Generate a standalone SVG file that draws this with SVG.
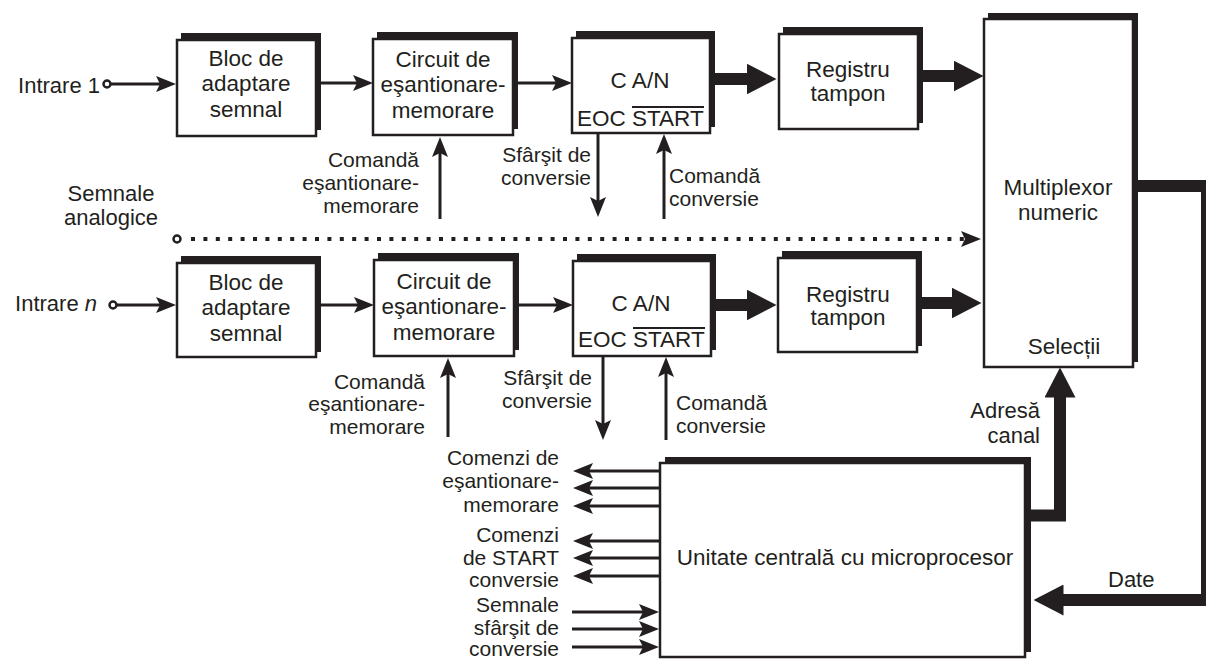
<svg xmlns="http://www.w3.org/2000/svg" width="1206" height="661" viewBox="0 0 1206 661">
  <style>
    .shadow { fill: #231f20; }
    .box { fill: #ffffff; stroke: #231f20; stroke-width: 2.5; }
    .t { font-family: "Liberation Sans", Arial, sans-serif; font-size: 22.5px; fill: #231f20; }
    .lbl { font-family: "Liberation Sans", Arial, sans-serif; font-size: 21px; fill: #231f20; }
    .big { font-family: "Liberation Sans", Arial, sans-serif; font-size: 22px; fill: #231f20; }
    .mid { text-anchor: middle; }
    .end { text-anchor: end; }
    .thin { fill: none; stroke: #231f20; stroke-width: 3; marker-end: url(#ah); }
    .bus { fill: none; stroke: #231f20; stroke-width: 12; marker-end: url(#AH); }
    .dots { fill: none; stroke: #231f20; stroke-width: 4; stroke-dasharray: 4 8.4; marker-end: url(#ah); }
    .pin { fill: #ffffff; stroke: #231f20; stroke-width: 2.5; }
  </style>
  <defs>
    <marker id="ah" viewBox="0 0 20 16" markerWidth="20" markerHeight="16" refX="4" refY="8" orient="auto" markerUnits="userSpaceOnUse">
      <path d="M0,0 L20,8 L0,16 L4,8 z" fill="#231f20"/>
    </marker>
    <marker id="AH" viewBox="0 0 30 31" markerWidth="30" markerHeight="31" refX="0.5" refY="15.5" orient="auto" markerUnits="userSpaceOnUse">
      <path d="M0,0 L30,15.5 L0,31 z" fill="#231f20"/>
    </marker>
  </defs>

  <!-- channel 1 -->
  <g id="bloc1">
    <rect class="shadow" x="181" y="33" width="140" height="97"/>
    <rect class="box" x="177" y="40" width="139" height="96"/>
    <text class="t mid" x="246" y="66">Bloc de</text>
    <text class="t mid" x="246" y="91">adaptare</text>
    <text class="t mid" x="246" y="117">semnal</text>
  </g>
  <g id="esm1">
    <rect class="shadow" x="377" y="32" width="141" height="97"/>
    <rect class="box" x="373" y="39" width="140" height="96"/>
    <text class="t mid" x="443" y="67">Circuit de</text>
    <text class="t mid" x="443" y="92">eşantionare-</text>
    <text class="t mid" x="443" y="118">memorare</text>
  </g>
  <g id="can1">
    <rect class="shadow" x="576" y="31" width="139" height="96"/>
    <rect class="box" x="572" y="38" width="138" height="95"/>
    <text class="t mid" x="640" y="88">C A/N</text>
    <text class="t" x="577" y="126">EOC</text>
    <text class="t" x="632" y="126">START</text>
    <line x1="632" y1="107" x2="704" y2="107" stroke="#231f20" stroke-width="1.8"/>
  </g>
  <g id="reg1">
    <rect class="shadow" x="783" y="27" width="140" height="96"/>
    <rect class="box" x="779" y="34" width="139" height="95"/>
    <text class="t mid" x="848" y="77">Registru</text>
    <text class="t mid" x="848" y="101">tampon</text>
  </g>

  <!-- channel n -->
  <g id="blocn">
    <rect class="shadow" x="181" y="256" width="140" height="96"/>
    <rect class="box" x="177" y="263" width="139" height="94"/>
    <text class="t mid" x="246" y="290">Bloc de</text>
    <text class="t mid" x="246" y="315">adaptare</text>
    <text class="t mid" x="246" y="341">semnal</text>
  </g>
  <g id="esmn">
    <rect class="shadow" x="378" y="253" width="141" height="97"/>
    <rect class="box" x="374" y="260" width="140" height="96"/>
    <text class="t mid" x="444" y="289">Circuit de</text>
    <text class="t mid" x="444" y="314">eşantionare-</text>
    <text class="t mid" x="444" y="340">memorare</text>
  </g>
  <g id="cann">
    <rect class="shadow" x="577" y="254" width="139" height="96"/>
    <rect class="box" x="573" y="261" width="138" height="95"/>
    <text class="t mid" x="641" y="311">C A/N</text>
    <text class="t" x="578" y="347">EOC</text>
    <text class="t" x="633" y="347">START</text>
    <line x1="633" y1="328" x2="705" y2="328" stroke="#231f20" stroke-width="1.8"/>
  </g>
  <g id="regn">
    <rect class="shadow" x="782" y="251" width="140" height="95"/>
    <rect class="box" x="778" y="258" width="139" height="94"/>
    <text class="t mid" x="848" y="302">Registru</text>
    <text class="t mid" x="848" y="325">tampon</text>
  </g>

  <!-- digital multiplexer -->
  <g id="mux">
    <rect class="shadow" x="988" y="13" width="150" height="349"/>
    <rect class="box" x="984" y="19" width="149" height="348"/>
    <text class="t mid" x="1058" y="195">Multiplexor</text>
    <text class="t mid" x="1058" y="220">numeric</text>
    <text class="t mid" x="1064" y="354">Selecții</text>
  </g>

  <!-- central processing unit -->
  <g id="cpu">
    <rect class="shadow" x="665" y="457" width="366" height="195"/>
    <rect class="box" x="660" y="463" width="365" height="194"/>
    <text class="t mid" x="845" y="565">Unitate centrală cu microprocesor</text>
  </g>

  <!-- free labels -->
  <g id="labels">
    <text class="big end" x="100" y="93">Intrare 1</text>
    <text class="big end" x="97" y="311">Intrare <tspan font-style="italic">n</tspan></text>
    <text class="big mid" x="111" y="201">Semnale</text>
    <text class="big mid" x="111" y="225">analogice</text>

    <text class="lbl end" x="419" y="167">Comandă</text>
    <text class="lbl end" x="419" y="190">eşantionare-</text>
    <text class="lbl end" x="419" y="213">memorare</text>
    <text class="lbl end" x="591" y="162">Sfârşit de</text>
    <text class="lbl end" x="591" y="185">conversie</text>
    <text class="lbl" x="669" y="183">Comandă</text>
    <text class="lbl" x="669" y="206">conversie</text>

    <text class="lbl end" x="425" y="389">Comandă</text>
    <text class="lbl end" x="425" y="411">eşantionare-</text>
    <text class="lbl end" x="425" y="434">memorare</text>
    <text class="lbl end" x="592" y="385">Sfârşit de</text>
    <text class="lbl end" x="592" y="408">conversie</text>
    <text class="lbl" x="676" y="410">Comandă</text>
    <text class="lbl" x="676" y="433">conversie</text>

    <text class="lbl end" x="559" y="465">Comenzi de</text>
    <text class="lbl end" x="559" y="488">eşantionare-</text>
    <text class="lbl end" x="559" y="512">memorare</text>
    <text class="lbl end" x="559" y="542">Comenzi</text>
    <text class="lbl end" x="559" y="565">de START</text>
    <text class="lbl end" x="559" y="587">conversie</text>
    <text class="lbl end" x="559" y="612">Semnale</text>
    <text class="lbl end" x="559" y="635">sfârşit de</text>
    <text class="lbl end" x="559" y="656">conversie</text>

    <text class="big end" x="1040" y="418">Adresă</text>
    <text class="big end" x="1040" y="443">canal</text>
    <text class="big" x="1108" y="587">Date</text>
  </g>

  <g id="connectors">
    <!-- channel 1 signal path -->
    <circle class="pin" cx="107" cy="84" r="3.5"/>
    <line class="thin" x1="111" y1="84" x2="160" y2="84"/>
    <line class="thin" x1="321" y1="83" x2="357" y2="83"/>
    <line class="thin" x1="518" y1="83" x2="556" y2="83"/>
    <line class="bus" x1="715" y1="79" x2="747" y2="79"/>
    <line class="bus" x1="923" y1="76" x2="954" y2="76"/>
    <!-- channel 1 control -->
    <line class="thin" x1="440" y1="219" x2="440" y2="153"/>
    <line class="thin" x1="598" y1="134" x2="598" y2="201"/>
    <line class="thin" x1="664" y1="219" x2="664" y2="150"/>

    <!-- analog inputs (dotted) -->
    <circle class="pin" cx="177" cy="239" r="3.5"/>
    <line class="dots" x1="191" y1="239" x2="965" y2="239"/>

    <!-- channel n signal path -->
    <circle class="pin" cx="113" cy="305" r="3.5"/>
    <line class="thin" x1="117" y1="305" x2="160" y2="305"/>
    <line class="thin" x1="321" y1="305" x2="358" y2="305"/>
    <line class="thin" x1="519" y1="305" x2="557" y2="305"/>
    <line class="bus" x1="716" y1="305" x2="747" y2="305"/>
    <line class="bus" x1="922" y1="303" x2="952" y2="303"/>
    <!-- channel n control -->
    <line class="thin" x1="448" y1="437" x2="448" y2="374"/>
    <line class="thin" x1="603" y1="357" x2="603" y2="424"/>
    <line class="thin" x1="666" y1="440" x2="666" y2="373"/>

    <!-- CPU control outputs -->
    <line class="thin" x1="659" y1="471" x2="589" y2="471"/>
    <line class="thin" x1="659" y1="488" x2="589" y2="488"/>
    <line class="thin" x1="659" y1="506" x2="589" y2="506"/>
    <line class="thin" x1="659" y1="541" x2="589" y2="541"/>
    <line class="thin" x1="659" y1="558" x2="589" y2="558"/>
    <line class="thin" x1="659" y1="576" x2="589" y2="576"/>
    <!-- end-of-conversion inputs -->
    <line class="thin" x1="572" y1="612" x2="643" y2="612"/>
    <line class="thin" x1="572" y1="629" x2="643" y2="629"/>
    <line class="thin" x1="572" y1="647" x2="643" y2="647"/>

    <!-- channel address bus -->
    <path class="bus" d="M1031,515.5 H1060 V397"/>
    <!-- data bus back to CPU -->
    <path class="bus" d="M1138,186 H1207 V600 H1063"/>
  </g>
</svg>
